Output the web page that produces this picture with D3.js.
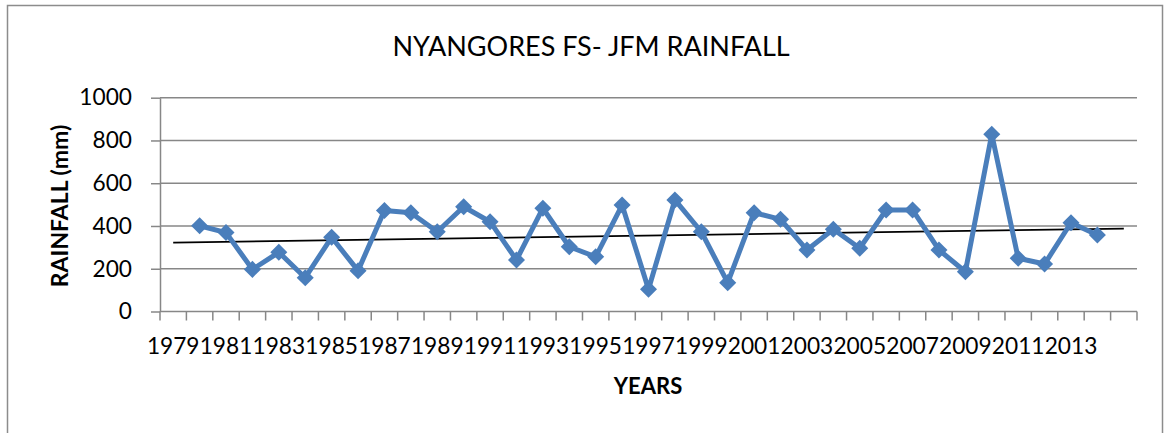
<!DOCTYPE html>
<html>
<head>
<meta charset="utf-8">
<script src="https://d3js.org/d3.v7.min.js"></script>
<style>
  body { margin: 0; background: #fff; }
  text { font-family: Lato, "Open Sans", sans-serif; fill: #000; }
</style>
</head>
<body>
<div id="chartFrame"></div>
<script>
// categories on the x axis (the last band has no label or value)
const years = [1979, 1980, 1981, 1982, 1983, 1984, 1985, 1986, 1987, 1988,
  1989, 1990, 1991, 1992, 1993, 1994, 1995, 1996, 1997, 1998,
  1999, 2000, 2001, 2002, 2003, 2004, 2005, 2006, 2007, 2008,
  2009, 2010, 2011, 2012, 2013, 2014, 2015]
// JFM rainfall (mm); null = no point drawn
const rainfall = [null, 401, 369, 197, 277, 158, 347, 191, 472, 462,
  373, 490, 420, 241, 483, 303, 256, 498, 104, 522,
  373, 135, 462, 431, 288, 385, 296, 475, 475, 288,
  186, 829, 249, 222, 415, 358, null]
const yearLabels = [1979, 1981, 1983, 1985, 1987, 1989, 1991, 1993, 1995,
  1997, 1999, 2001, 2003, 2005, 2007, 2009, 2011, 2013]
const yTicks = [0, 200, 400, 600, 800, 1000]

const W = 1169
const H = 433
const plot = { left: 160, right: 1137, top: 97.7, bottom: 311.5 }
const gridColor = '#878787'
const lineColor = '#4a7ebb'
const tickFont = '22.7px'

let svg = d3.select('#chartFrame')
  .append('svg')
  .attr('width', W)
  .attr('height', H)

// outer chart border
svg.append('rect')
  .attr('x', 7.5).attr('y', 5.5)
  .attr('width', 1155).attr('height', 440)
  .attr('fill', '#fff')
  .attr('stroke', '#8c8c8c')
  .attr('stroke-width', 1.5)

let x = d3.scaleBand().domain(years).range([plot.left, plot.right]).padding(0)
let y = d3.scaleLinear().domain([0, 1000]).range([plot.bottom, plot.top])
let cx = d => x(d) + x.bandwidth() / 2

// horizontal grid
svg.append('g')
  .selectAll('line')
  .data(yTicks.filter(t => t > 0))
  .enter()
  .append('line')
  .attr('x1', plot.left).attr('x2', plot.right)
  .attr('y1', d => y(d)).attr('y2', d => y(d))
  .attr('stroke', gridColor)
  .attr('stroke-width', 1.5)

// y axis
let yAxis = svg.append('g')
  .attr('transform', `translate(${plot.left},0)`)
  .call(d3.axisLeft(y).tickValues(yTicks).tickFormat(d3.format('d'))
    .tickSize(9).tickPadding(19).tickSizeOuter(0))
yAxis.select('.domain').attr('stroke', gridColor).attr('stroke-width', 1.5)
yAxis.selectAll('.tick line').attr('stroke', gridColor).attr('stroke-width', 1.5)
yAxis.selectAll('.tick text')
  .style('font-size', tickFont)
  .style('font-family', 'Lato, sans-serif')
  .attr('fill', '#000')

// x axis: line, ticks on band edges, labels every second year
let xAxis = svg.append('g')
xAxis.append('line')
  .attr('x1', plot.left).attr('x2', plot.right)
  .attr('y1', plot.bottom).attr('y2', plot.bottom)
  .attr('stroke', gridColor).attr('stroke-width', 1.5)
xAxis.selectAll('.xtick')
  .data(years.concat(['end']))
  .enter()
  .append('line')
  .attr('x1', d => d === 'end' ? plot.right : x(d))
  .attr('x2', d => d === 'end' ? plot.right : x(d))
  .attr('y1', plot.bottom).attr('y2', plot.bottom + 9)
  .attr('stroke', gridColor).attr('stroke-width', 1.5)
xAxis.selectAll('.xlabel')
  .data(yearLabels)
  .enter()
  .append('text')
  .attr('x', d => cx(d))
  .attr('y', 354)
  .attr('text-anchor', 'middle')
  .style('font-size', tickFont)
  .text(d => d)

// linear trend over the plotted points, drawn across all bands
let pts = years.map((yr, i) => ({ i: i, yr: yr, v: rainfall[i] })).filter(d => d.v !== null)
let mx = d3.mean(pts, d => d.i)
let my = d3.mean(pts, d => d.v)
let slope = d3.sum(pts, d => (d.i - mx) * (d.v - my)) / d3.sum(pts, d => (d.i - mx) * (d.i - mx))
let trend = i => my + slope * (i - mx)
let first = 0
let last = years.length - 1
svg.append('line')
  .attr('x1', cx(years[first])).attr('y1', y(trend(first)))
  .attr('x2', cx(years[last])).attr('y2', y(trend(last)))
  .attr('stroke', '#000')
  .attr('stroke-width', 1.8)

// series line
let line = d3.line()
  .x(d => cx(d.yr))
  .y(d => y(d.v))
svg.append('path')
  .datum(pts)
  .attr('d', line)
  .attr('fill', 'none')
  .attr('stroke', lineColor)
  .attr('stroke-width', 5)
  .attr('stroke-linejoin', 'round')

// diamond markers
svg.selectAll('.marker')
  .data(pts)
  .enter()
  .append('path')
  .attr('d', d3.symbol().type(d3.symbolSquare).size(145))
  .attr('transform', d => `translate(${cx(d.yr)},${y(d.v)}) rotate(45)`)
  .attr('fill', lineColor)

// titles
svg.append('text')
  .attr('x', 591).attr('y', 56)
  .attr('text-anchor', 'middle')
  .style('font-size', '27px')
  .text('NYANGORES FS- JFM RAINFALL')

svg.append('text')
  .attr('x', 648).attr('y', 394)
  .attr('text-anchor', 'middle')
  .style('font-size', '22px')
  .style('font-weight', 'bold')
  .text('YEARS')

svg.append('text')
  .attr('transform', 'translate(68,206) rotate(-90)')
  .attr('text-anchor', 'middle')
  .style('font-size', '23px')
  .style('font-weight', 'bold')
  .text('RAINFALL (mm)')
</script>
</body>
</html>
